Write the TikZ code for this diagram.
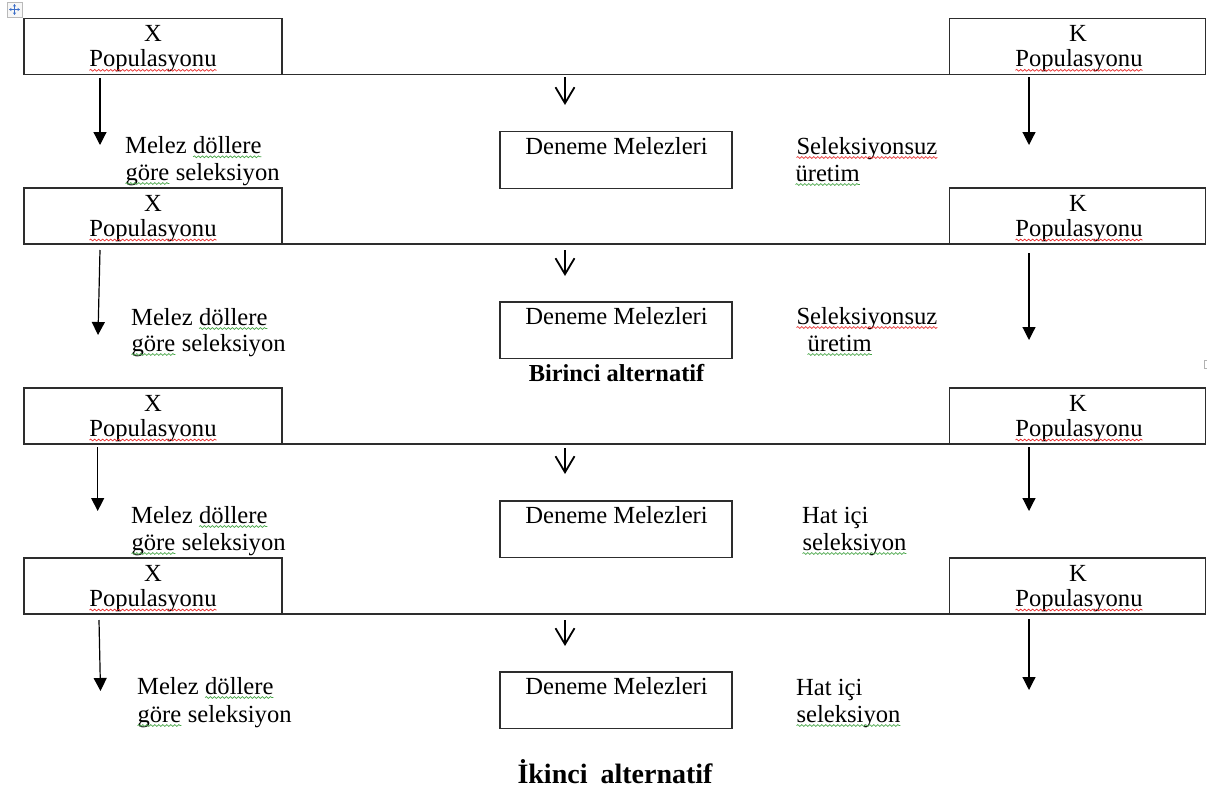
\documentclass[tikz,border=0pt]{standalone}
\usepackage{fontspec}
\setmainfont{Liberation Serif}
\usepackage{tikz}
\usetikzlibrary{arrows.meta, decorations.pathmorphing}
\definecolor{boxLine}{RGB}{45,45,45}
\definecolor{squigRed}{RGB}{232,45,45}
\definecolor{squigGreen}{RGB}{70,165,70}
\definecolor{handleBlue}{RGB}{60,110,200}

\newcommand{\bodysize}{\fontsize{24.6}{26}\selectfont}
% spell-check squiggle under one word
\newcommand{\wavy}[2]{\tikz[baseline=(w.base)]{%
    \node[inner sep=0pt, outer sep=0pt] (w) {#2};
    \draw[#1, line width=0.7pt, decorate,
          decoration={snake, amplitude=0.9pt, segment length=4pt}]
        ([yshift=-3.5pt]w.base west) -- ([yshift=-3.5pt]w.base east);}}

\begin{document}
\begin{tikzpicture}[
    x=1pt, y=-1pt,
    popbox/.style={draw=boxLine, line width=1.3pt, minimum height=56pt, inner sep=0pt, outer sep=0pt},
    denbox/.style={draw=boxLine, line width=1.3pt, minimum width=232pt, minimum height=56.6pt, inner sep=0pt, outer sep=0pt},
    rowline/.style={draw=boxLine, line width=1.3pt},
    poptext/.style={anchor=base, inner sep=0pt, font=\bodysize},
    note/.style={anchor=base west, inner sep=0pt, font=\bodysize},
    sidearrow/.style={-{Triangle[width=13pt, length=13pt]}, line width=1.2pt},
    midarrow/.style={-{Straight Barb[width=19pt, length=16pt]}, line width=1.8pt},
]
% Canvas: x in [0, 1208], y in [0, 795], y grows downwards
\fill[white] (0,0) rectangle (1208,795);
\useasboundingbox (0,0) rectangle (1208,795);

% --- Table handle (top left) and row-end mark ---
\draw[gray!55, fill=gray!6, line width=0.6pt] (7,2) rectangle (22,17);
\draw[handleBlue, line width=0.9pt, {Stealth[length=2.5pt, width=3pt]}-{Stealth[length=2.5pt, width=3pt]}]
    (9,9.5) -- (20,9.5);
\draw[handleBlue, line width=0.9pt, {Stealth[length=2.5pt, width=3pt]}-{Stealth[length=2.5pt, width=3pt]}]
    (14.5,4) -- (14.5,15);
\draw[gray!60, line width=0.8pt] (1207,360) -- (1204,360) -- (1204,368) -- (1207,368);

% --- Population rows: X box, K box and the row border between them ---
\foreach \r/\t in {1/18.3, 2/188, 3/388, 4/558} {
    \node[popbox, minimum width=258pt] (x\r) at (153,\t+28) {};
    \node[popbox, minimum width=256pt] (k\r) at (1077.8,\t+28) {};
    \draw[rowline] (x\r.south east) -- (k\r.south west);
    \node[poptext] (xt\r) at (153,\t+23) {X};
    \node[poptext] (xp\r) at (153,\t+48.5) {\wavy{squigRed}{Populasyonu}};
    \node[poptext] (kt\r) at (1078,\t+23) {K};
    \node[poptext] (kp\r) at (1079,\t+48.5) {\wavy{squigRed}{Populasyonu}};
}

% --- Test cross boxes ---
\foreach \r/\t in {1/131.7, 2/302, 3/501, 4/672} {
    \node[denbox] (d\r) at (616,\t+28.3) {};
    \node[poptext] (dt\r) at (616.5,\t+22.3) {Deneme Melezleri};
}

% --- Left notes ---
\node[note] (ml1) at (125,153.3) {Melez \wavy{squigGreen}{döllere}};
\node[note] (gl1) at (125,180)   {\wavy{squigGreen}{göre} seleksiyon};
\node[note] (ml2) at (131,325)   {Melez \wavy{squigGreen}{döllere}};
\node[note] (gl2) at (131,351)   {\wavy{squigGreen}{göre} seleksiyon};
\node[note] (ml3) at (131,523)   {Melez \wavy{squigGreen}{döllere}};
\node[note] (gl3) at (131,550)   {\wavy{squigGreen}{göre} seleksiyon};
\node[note] (ml4) at (137,694)   {Melez \wavy{squigGreen}{döllere}};
\node[note] (gl4) at (137,722)   {\wavy{squigGreen}{göre} seleksiyon};

% --- Right notes ---
\node[note] (sr1) at (796,154) {\wavy{squigRed}{Seleksiyonsuz}};
\node[note] (ur1) at (795,181) {\wavy{squigGreen}{üretim}};
\node[note] (sr2) at (796,324) {\wavy{squigRed}{Seleksiyonsuz}};
\node[note] (ur2) at (807,351) {\wavy{squigGreen}{üretim}};
\node[note] (hr3) at (802,523) {Hat içi};
\node[note] (sl3) at (802,550) {\wavy{squigGreen}{seleksiyon}};
\node[note] (hr4) at (796,695) {Hat içi};
\node[note] (sl4) at (796,722) {\wavy{squigGreen}{seleksiyon}};

% --- Arrow end points ---
\coordinate (la1) at (100,145);   \coordinate (ra1) at (1029,145);
\coordinate (la2) at (98,335);    \coordinate (ra2) at (1029,340);
\coordinate (la3) at (97.7,511);  \coordinate (ra3) at (1029,511);
\coordinate (la4) at (100.5,691); \coordinate (ra4) at (1029,690);
\coordinate (ms1) at (565,77);    \coordinate (me1) at (565,105);
\coordinate (ms2) at (565,250);   \coordinate (me2) at (565,276);
\coordinate (ms3) at (565,448);   \coordinate (me3) at (565,474);
\coordinate (ms4) at (565,620);   \coordinate (me4) at (565,646);

% --- Arrows ---
\draw[sidearrow] ([xshift=-53pt, yshift=-4pt]x1.south) -- (la1);
\draw[sidearrow] ([xshift=-48.8pt, yshift=-3pt]k1.south) -- (ra1);
\draw[sidearrow] ([xshift=-53pt, yshift=-6pt]x2.south) -- (la2);
\draw[sidearrow] ([xshift=-48.8pt, yshift=-9pt]k2.south) -- (ra2);
\draw[sidearrow] ([xshift=-55.3pt, yshift=-3pt]x3.south) -- (la3);
\draw[sidearrow] ([xshift=-48.8pt, yshift=-3pt]k3.south) -- (ra3);
\draw[sidearrow] ([xshift=-54pt, yshift=-6pt]x4.south) -- (la4);
\draw[sidearrow] ([xshift=-48.8pt, yshift=-5pt]k4.south) -- (ra4);
\foreach \r in {1,2,3,4} {
    \draw[midarrow] (ms\r) -- (me\r);
}

% --- Headings ---
\node[anchor=base, inner sep=0pt, font=\fontsize{24.4}{26}\selectfont\bfseries] (alt1)
    at (616.5,381) {Birinci alternatif};
\node[anchor=base, inner sep=0pt, font=\fontsize{28}{30}\selectfont\bfseries] (alt2)
    at (615,783) {İkinci\hspace{6pt} alternatif};

\end{tikzpicture}
\end{document}
